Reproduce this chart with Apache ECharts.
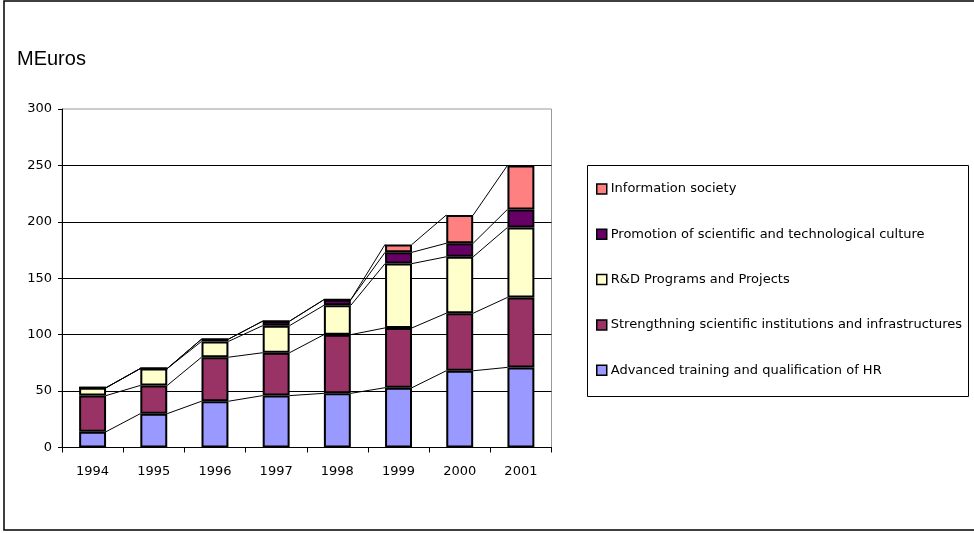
<!DOCTYPE html>
<html>
<head>
<meta charset="utf-8">
<script src="https://cdn.jsdelivr.net/npm/echarts@6/dist/echarts.min.js"></script>
<style>
  html, body { margin: 0; padding: 0; background: #fff; }
  #chart { width: 974px; height: 533px; }
</style>
</head>
<body>
<div id="chart"></div>
<script>
// Budget by programme line, million euros
const years = ['1994', '1995', '1996', '1997', '1998', '1999', '2000', '2001'];
const advancedTraining = [14, 30, 41, 46, 48, 53, 68, 71];
const strengthening    = [32, 25, 39, 38, 52, 53, 51, 62];
const rdPrograms       = [7, 15, 14, 24, 26, 57, 50, 62];
const promotion        = [0, 0, 2, 4, 5, 10, 12, 16];
const infoSociety      = [0, 0, 0, 0, 0, 7, 25, 39];
const yTicks = [0, 50, 100, 150, 200, 250, 300];

const seriesDefs = [
  { name: 'Advanced training and qualification of HR', values: advancedTraining, color: '#9999FF' },
  { name: 'Strengthning scientific institutions and infrastructures', values: strengthening, color: '#993366' },
  { name: 'R&D Programs and Projects', values: rdPrograms, color: '#FFFFCC' },
  { name: 'Promotion of scientific and technological culture', values: promotion, color: '#660066' },
  { name: 'Information society', values: infoSociety, color: '#FF8080' }
];

const BAR_FRACTION = 0.44;

// running totals at the top of each stacked segment
const cumulative = [];
seriesDefs.forEach((s, k) => {
  cumulative.push(s.values.map((v, i) => v + (k > 0 ? cumulative[k - 1][i] : 0)));
});

const chart = echarts.init(document.getElementById('chart'));

const barSeries = seriesDefs.map(s => ({
  name: s.name,
  type: 'bar',
  stack: 'total',
  barWidth: (BAR_FRACTION * 100) + '%',
  data: s.values,
  itemStyle: { color: s.color, borderColor: '#000', borderWidth: 2 },
  emphasis: { disabled: true }
}));

// connector lines between the tops of each segment in neighbouring columns
const connectorData = years.slice(0, -1).map((y, i) => [i, 0]);
const connectorSeries = {
  type: 'custom',
  silent: true,
  z: 1,
  data: connectorData,
  encode: { x: 0, y: 1 },
  renderItem: function (params, api) {
    const i = params.dataIndex;
    const band = api.size([1, 0])[0];
    const half = band * BAR_FRACTION / 2;
    const children = cumulative.map(level => {
      const a = api.coord([i, level[i]]);
      const b = api.coord([i + 1, level[i + 1]]);
      return {
        type: 'line',
        shape: { x1: a[0] + half, y1: a[1], x2: b[0] - half, y2: b[1] },
        style: { stroke: '#000', lineWidth: 1 }
      };
    });
    return { type: 'group', children: children };
  }
};

chart.setOption({
  animation: false,
  backgroundColor: '#fff',
  textStyle: { fontFamily: 'Liberation Sans, Arial, sans-serif' },
  title: {
    text: 'MEuros',
    left: 17,
    top: 49,
    padding: [0, 0, 0, 0],
    textStyle: { fontSize: 20, fontWeight: 'normal', color: '#000', fontFamily: 'Liberation Sans, Arial, sans-serif' }
  },
  grid: {
    left: 62, right: 422.5, top: 109, bottom: 85.5,
    show: true, borderColor: '#999', borderWidth: 1, backgroundColor: 'transparent'
  },
  legend: {
    orient: 'vertical',
    left: 596,
    top: 182,
    padding: 0,
    itemWidth: 10,
    itemHeight: 10,
    itemGap: 31.3,
    icon: 'rect',
    data: seriesDefs.map(s => s.name).reverse(),
    itemStyle: { borderColor: '#000', borderWidth: 1.5 },
    textStyle: { fontSize: 13, lineHeight: 14, color: '#000', fontFamily: 'DejaVu Sans, sans-serif', padding: [0, 0, 0, -1] },
    selectedMode: false
  },
  xAxis: {
    type: 'category',
    data: years,
    boundaryGap: true,
    axisLine: { lineStyle: { color: '#000', width: 1 } },
    axisTick: { show: true, length: 5, lineStyle: { color: '#000' } },
    axisLabel: { color: '#000', fontSize: 13, margin: 18, fontFamily: 'DejaVu Sans, sans-serif' },
    splitLine: { show: false }
  },
  yAxis: {
    type: 'value',
    min: yTicks[0],
    max: yTicks[yTicks.length - 1],
    interval: yTicks[1] - yTicks[0],
    axisLine: { show: true, lineStyle: { color: '#000', width: 1 } },
    axisTick: { show: true, length: 4, lineStyle: { color: '#000' } },
    axisLabel: { color: '#000', fontSize: 13, margin: 10, fontFamily: 'DejaVu Sans, sans-serif' },
    splitLine: { show: true, showMaxLine: false, lineStyle: { color: '#000', width: 1 } }
  },
  graphic: [
    {
      type: 'rect',
      silent: true,
      shape: { x: 4, y: 1, width: 990, height: 529 },
      style: { fill: 'none', stroke: '#000', lineWidth: 1.5 }
    },
    {
      type: 'rect',
      silent: true,
      shape: { x: 587.5, y: 165.5, width: 381, height: 231 },
      style: { fill: 'none', stroke: '#000', lineWidth: 1 }
    }
  ],
  series: barSeries.concat([connectorSeries])
});
</script>
</body>
</html>
